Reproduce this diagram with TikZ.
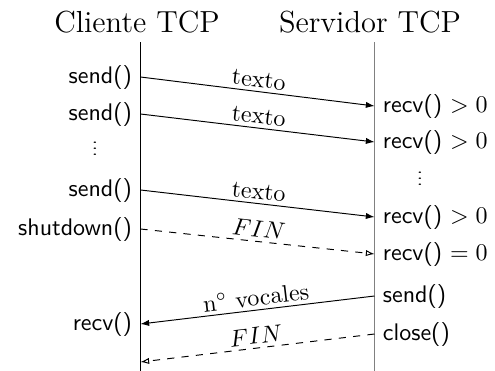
\documentclass[tikz,border=0pt]{standalone}
\usepackage{amsmath}
\usepackage{graphicx}
\usepackage{tikz}
\usetikzlibrary{arrows.meta, positioning}

\begin{document}
\begin{tikzpicture}[
    x=0.4167pt, y=-0.4167pt,
    >={Latex[length=3.6pt, width=2.6pt]},
    actor/.style={font=\fontsize{12.7}{15}\selectfont, anchor=south},
    callL/.style={anchor=east, font=\sffamily},
    callR/.style={anchor=west, font=\sffamily},
    dots/.style={anchor=base, inner sep=0pt},
    msg/.style={->},
    fin/.style={-{Latex[open, length=3.6pt, width=2.6pt]}, dashed},
    tag/.style={above, sloped, inner sep=1.5pt}
]
\useasboundingbox (0,0) rectangle (495,371);

% lifelines
\node[actor] (cliente) at (137,42) {Cliente TCP};
\node[actor] (servidor) at (370,42) {Servidor TCP};
\coordinate (cli top) at (140.5,42);
\coordinate (cli bot) at (140.5,371);
\coordinate (srv top) at (374.5,42);
\coordinate (srv bot) at (374.5,371);
\draw (cli top) -- (cli bot);
\draw[gray] (srv top) -- (srv bot);

% client calls
\node[callL] (send1) at (140.5,77) {send()};
\node[callL] (send2) at (140.5,114) {send()};
\node[dots] (dotsC) at (95,155.5) {\scalebox{1}[0.6]{$\vdots$}};
\node[callL] (send3) at (140.5,190) {send()};
\node[callL] (shut) at (140.5,229) {shutdown()};
\node[callL] (recvC) at (140.5,324) {recv()};
\coordinate (finC) at (140.5,362);

% server calls
\node[callR] (recv1) at (374.5,106) {recv() $> 0$};
\node[callR] (recv2) at (374.5,142) {recv() $> 0$};
\node[dots] (dotsS) at (420,185.5) {\scalebox{1}[0.6]{$\vdots$}};
\node[callR] (recv3) at (374.5,217) {recv() $> 0$};
\node[callR] (recv4) at (374.5,254) {recv() $= 0$};
\node[callR] (sendS) at (374.5,296) {send()};
\node[callR] (closeS) at (374.5,334) {close()};

% messages
\draw[msg] (send1.east) -- node[tag] {texto} (recv1.west);
\draw[msg] (send2.east) -- node[tag] {texto} (recv2.west);
\draw[msg] (send3.east) -- node[tag] {texto} (recv3.west);
\draw[fin] (shut.east) -- node[tag] {$FIN$} (recv4.west);
\draw[msg] (sendS.west) -- node[tag] {n$^\circ$ vocales} (recvC.east);
\draw[fin] (closeS.west) -- node[tag] {$FIN$} (finC);
\end{tikzpicture}
\end{document}
